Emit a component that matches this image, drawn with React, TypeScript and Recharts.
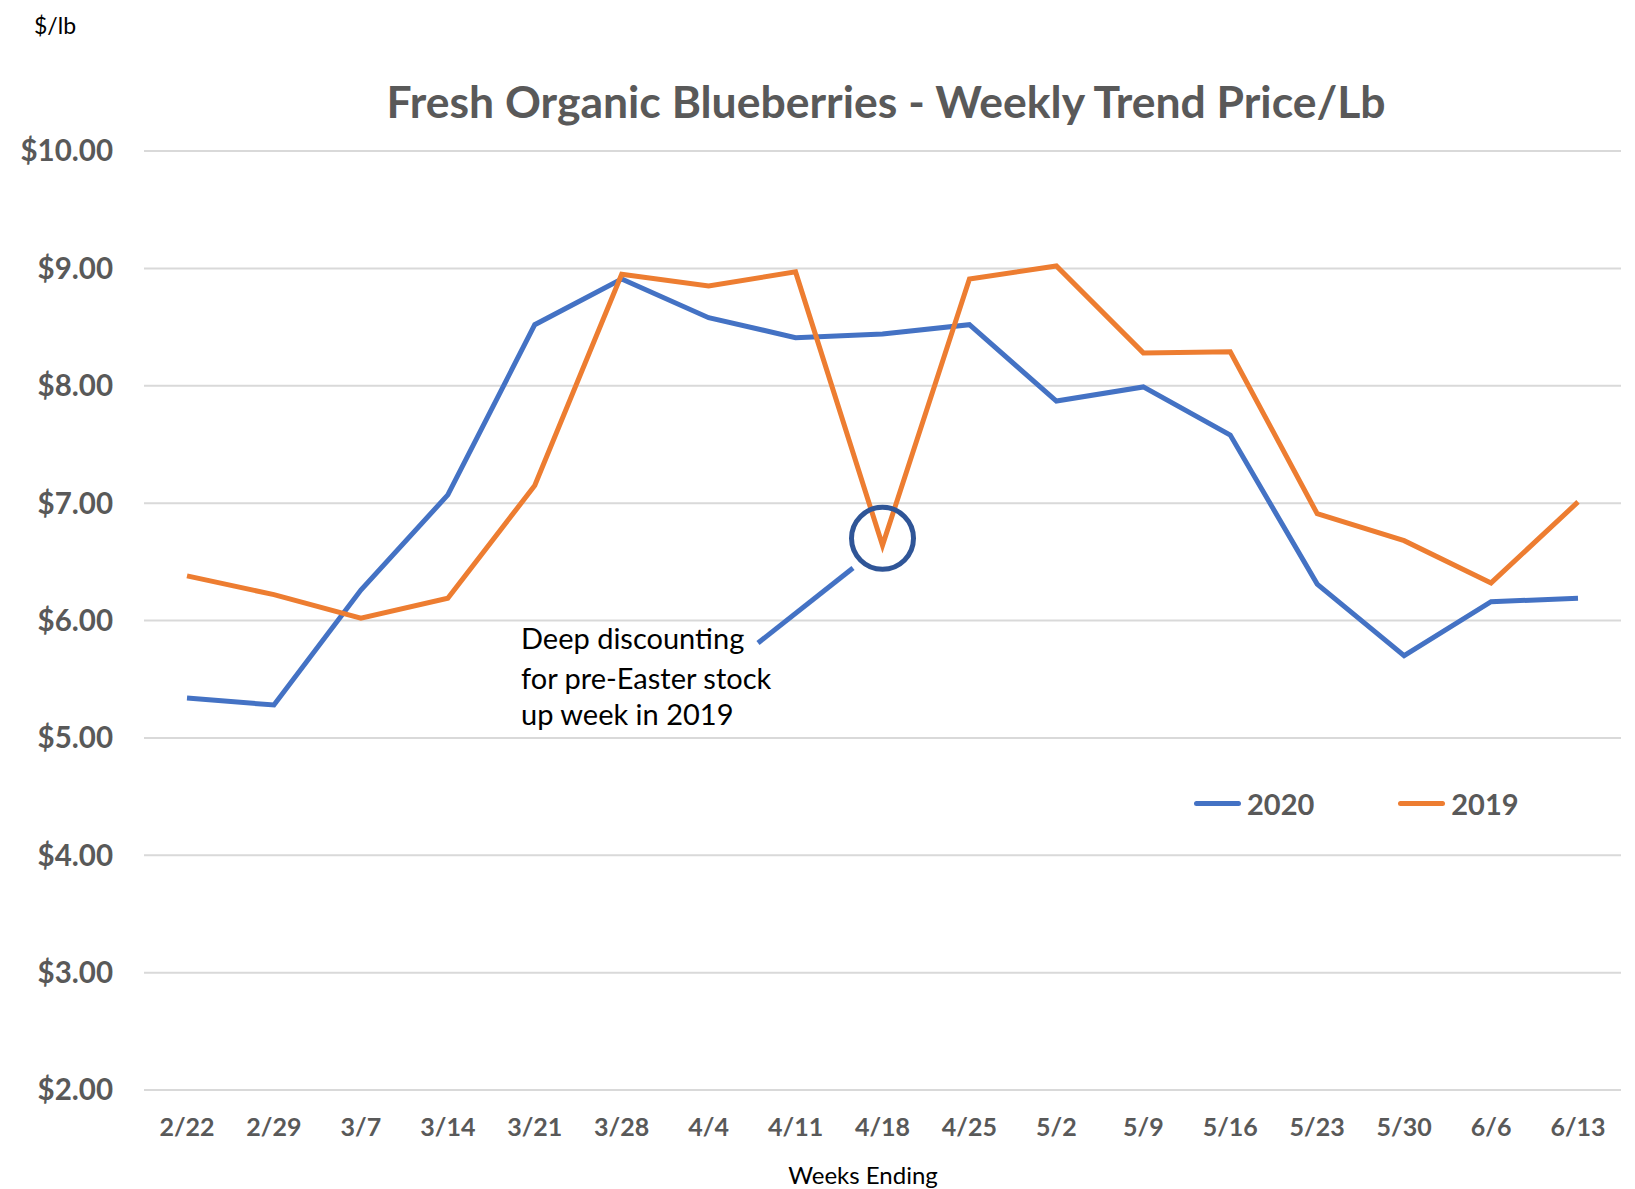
import React from 'react';
import {
  LineChart, Line, XAxis, YAxis, CartesianGrid, ReferenceDot,
} from 'recharts';

const weeks = ['2/22', '2/29', '3/7', '3/14', '3/21', '3/28', '4/4', '4/11', '4/18', '4/25', '5/2', '5/9', '5/16', '5/23', '5/30', '6/6', '6/13'];
const price2020 = [5.34, 5.28, 6.26, 7.07, 8.52, 8.91, 8.58, 8.41, 8.44, 8.52, 7.87, 7.99, 7.58, 6.31, 5.70, 6.16, 6.19];
const price2019 = [6.38, 6.22, 6.02, 6.19, 7.15, 8.95, 8.85, 8.97, 6.64, 8.91, 9.02, 8.28, 8.29, 6.91, 6.68, 6.32, 7.01];
const yTicks = [2, 3, 4, 5, 6, 7, 8, 9, 10];

const data = weeks.map((week, i) => ({ week, y2020: price2020[i], y2019: price2019[i] }));

const BLUE = '#4472C4';
const ORANGE = '#ED7D31';
const FONT = 'Lato, "Open Sans", sans-serif';

const legendItems = [{ name: '2020', c: BLUE }, { name: '2019', c: ORANGE }];

export default function App() {
  return (
    <div style={{ position: 'relative', width: 1619, height: 1181 }}>
      <LineChart width={1619} height={1181} data={data} margin={{ top: 143, right: 6, bottom: 0, left: 0 }}>
        <CartesianGrid vertical={false} stroke="#D9D9D9" strokeWidth={2} />
        <XAxis
          dataKey="week"
          height={99}
          axisLine={false}
          tickLine={false}
          tickSize={0}
          tickMargin={28}
          padding={{ left: 43, right: 43 }}
          interval={0}
          tick={{ fill: '#595959', fontSize: 25, fontWeight: 700, fontFamily: FONT }}
        />
        <YAxis
          width={136}
          domain={[2, 10]}
          ticks={yTicks}
          axisLine={false}
          tickLine={false}
          tickSize={0}
          tickMargin={31}
          tickFormatter={(v: number) => `$${v.toFixed(2)}`}
          tick={{ fill: '#595959', fontSize: 29.5, fontWeight: 700, fontFamily: FONT }}
        />
        <Line dataKey="y2020" name="2020" stroke={BLUE} strokeWidth={5} dot={false} isAnimationActive={false} />
        <Line dataKey="y2019" name="2019" stroke={ORANGE} strokeWidth={5} dot={false} isAnimationActive={false} />
        {/* highlight the Easter dip */}
        <ReferenceDot x="4/18" y={6.7} r={31} fill="none" stroke="#2F5597" strokeWidth={5} />
      </LineChart>

      {/* legend sits inside the plot like the original */}
      <div style={{ position: 'absolute', left: 1186, top: 778, display: 'flex', alignItems: 'center', fontFamily: FONT, fontWeight: 700, fontSize: 29, color: '#595959' }}>
        {legendItems.map((s, i) => (
          <div key={s.name} style={{ display: 'flex', alignItems: 'center', marginLeft: i === 0 ? 0 : 84 }}>
            <div style={{ width: 47, height: 5, background: s.c, borderRadius: 3, marginRight: 6 }} />
            <span>{s.name}</span>
          </div>
        ))}
      </div>

      <svg width={1619} height={1181} style={{ position: 'absolute', left: 0, top: 0, pointerEvents: 'none' }}>
        <text x={26} y={20} dominantBaseline="middle" fontFamily={FONT} fontSize={23} fill="#000">$/lb</text>
        <text x={878} y={99} textAnchor="middle" dominantBaseline="middle" fontFamily={FONT} fontSize={44.5} fontWeight={700} fill="#595959">
          Fresh Organic Blueberries - Weekly Trend Price/Lb
        </text>
        <line x1={750} y1={635} x2={845} y2={560} stroke={BLUE} strokeWidth={5} />
        <g fontFamily={FONT} fontSize={29} fill="#000">
          <text x={513} y={634} dominantBaseline="middle">Deep discounting</text>
          <text x={513} y={674} dominantBaseline="middle">for pre-Easter stock</text>
          <text x={513} y={710} dominantBaseline="middle">up week in 2019</text>
        </g>
        <text x={855} y={1170} textAnchor="middle" dominantBaseline="middle" fontFamily={FONT} fontSize={24} fill="#000">Weeks Ending</text>
      </svg>
    </div>
  );
}
